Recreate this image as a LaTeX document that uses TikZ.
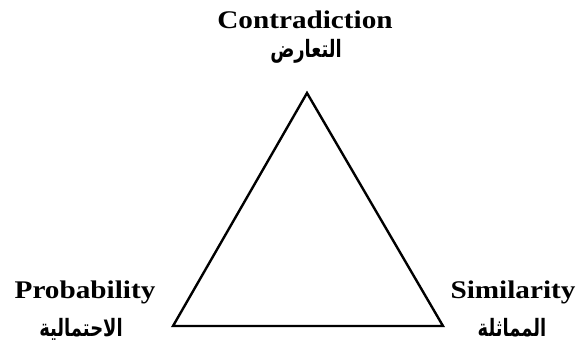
\documentclass[tikz,border=0pt]{standalone}
\usepackage{fontspec}
\setmainfont[FakeStretch=1.15]{Liberation Serif}
\newfontfamily\arabicfont[Script=Arabic,FakeStretch=0.75]{DejaVu Sans}
\TeXXeTstate=1
\usetikzlibrary{positioning}

\begin{document}
\begin{tikzpicture}[
  x=1bp, y=-1bp,
  entxt/.style={inner sep=0pt, anchor=base, font=\fontsize{25.5}{28}\selectfont\bfseries},
  artxt/.style={inner sep=0pt, anchor=base, font=\fontsize{24}{26}\selectfont\arabicfont\bfseries},
  edge/.style={line width=2.4bp, line join=miter},
]
\useasboundingbox (0,0) rectangle (582,358);

% Corners
\coordinate (apex) at (307,93);
\coordinate (lft) at (173,326);
\coordinate (rgt) at (443,326);

% Labels
\node[entxt] (contra) at (305,28) {Contradiction};
\node[artxt] (contraar) at (306,57) {\beginR التعارض\endR};
\node[entxt] (prob) at (85,298) {Probability};
\node[artxt] (probar) at (81,336) {\beginR الاحتمالية\endR};
\node[entxt] (simil) at (513,298) {Similarity};
\node[artxt] (similar) at (512,336) {\beginR المماثلة\endR};

% Triangle
\draw[edge] (apex) -- (lft) -- (rgt) -- cycle;
\end{tikzpicture}
\end{document}
